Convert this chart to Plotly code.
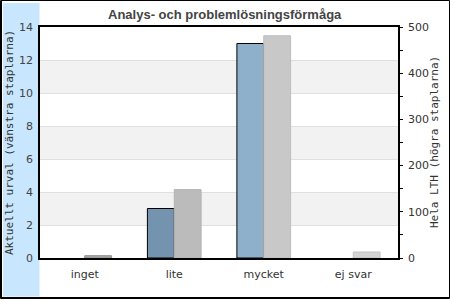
import plotly.graph_objects as go

# ---- data ----
categories = ["inget", "lite", "mycket", "ej svar"]
urval_values = [0, 3, 13, 0]          # Aktuellt urval (left axis)
lth_values = [5, 148, 481, 13]        # Hela LTH (right axis)
left_ticks = [0, 2, 4, 6, 8, 10, 12, 14]
right_ticks = [0, 100, 200, 300, 400, 500]

title_text = "Analys- och problemlösningsförmåga"
left_title = "Aktuellt urval (vänstra staplarna)"
right_title = "Hela LTH (högra staplarna)"

# ---- styles ----
blue_colors = ["#7f9fba", "#7393ae", "#8fb0cb", "#8fb0cb"]
grey_colors = ["#a8a8a8", "#bbbbbb", "#c8c8c8", "#d4d4d4"]
grey_lines = ["#909090", "#b4b4b4", "#bdbdbd", "#c4c4c4"]

W, H = 450, 300
L, R, T, B = 40, 52, 27, 42
pw, ph = W - L - R, H - T - B


def px_x(x):
    return (x - L) / pw


def px_y(y):
    return (H - B - y) / ph


fig = go.Figure()
fig.add_trace(go.Bar(
    x=categories, y=urval_values, yaxis="y", offsetgroup="a",
    marker=dict(color=blue_colors,
                line=dict(color="#000000", width=[1 if v else 0 for v in urval_values])),
    hoverinfo="skip",
))
fig.add_trace(go.Bar(
    x=categories, y=lth_values, yaxis="y2", offsetgroup="b",
    marker=dict(color=grey_colors, line=dict(color=grey_lines, width=1)),
    hoverinfo="skip",
))

shapes = []
# alternating bands
for lo in left_ticks[1::2]:
    if lo + 2 <= left_ticks[-1]:
        shapes.append(dict(type="rect", xref="paper", yref="y", x0=0, x1=1,
                           y0=lo, y1=lo + 2, fillcolor="#f2f2f2",
                           line=dict(width=0), layer="below"))
# blue strip
shapes.append(dict(type="rect", xref="paper", yref="paper",
                   x0=px_x(3), x1=px_x(39.5), y0=px_y(296.5), y1=px_y(3),
                   fillcolor="#c8e6fd", line=dict(width=0), layer="below"))
# outer border
shapes.append(dict(type="rect", xref="paper", yref="paper",
                   x0=px_x(0.5), x1=px_x(449.5), y0=px_y(298.5), y1=px_y(0.5),
                   fillcolor="rgba(0,0,0,0)", line=dict(color="#000000", width=1)))
shapes.append(dict(type="line", xref="paper", yref="paper",
                   x0=px_x(1.5), x1=px_x(1.5), y0=px_y(299), y1=px_y(0.5),
                   line=dict(color="#000000", width=1)))
shapes.append(dict(type="line", xref="paper", yref="paper",
                   x0=px_x(0.5), x1=px_x(449.5), y0=px_y(297.5), y1=px_y(297.5),
                   line=dict(color="#000000", width=1)))

annotations = [
    dict(text=left_title, xref="paper", yref="paper", x=px_x(9.5), y=0.5,
         textangle=-90, showarrow=False, xanchor="center", yanchor="middle",
         font=dict(family="DejaVu Sans Mono", size=11, color="#333333")),
    dict(text=right_title, xref="paper", yref="paper", x=px_x(434.5), y=0.5,
         textangle=-90, showarrow=False, xanchor="center", yanchor="middle",
         font=dict(family="DejaVu Sans Mono", size=11, color="#333333")),
    dict(text="<b>" + title_text + "</b>", xref="paper", yref="paper",
         x=px_x(225), y=px_y(14), showarrow=False, xanchor="center", yanchor="middle",
         font=dict(family="Liberation Sans", size=13, color="#444444")),
]

fig.update_layout(
    width=W, height=H,
    margin=dict(l=L, r=R, t=T, b=B, pad=0),
    paper_bgcolor="#ffffff", plot_bgcolor="#ffffff",
    showlegend=False,
    barmode="group", bargap=0.4, bargroupgap=0,
    shapes=shapes, annotations=annotations,
    font=dict(family="DejaVu Sans", size=11, color="#444444"),
    xaxis=dict(showline=True, linecolor="#000000", linewidth=1.5, mirror=True,
               showgrid=False, ticks="", ticklabelstandoff=5,
               tickfont=dict(size=11, color="#333333")),
    yaxis=dict(range=[0, 14], tickvals=left_ticks, showline=True, linecolor="#000000",
               linewidth=1.5, gridcolor="#e0e0e0", gridwidth=1, ticks="",
               zeroline=False, ticklabelstandoff=3,
               tickfont=dict(size=11, color="#444444")),
    yaxis2=dict(range=[0, 500], tickvals=right_ticks, overlaying="y", side="right",
                showline=True, linecolor="#000000", linewidth=1.5, showgrid=False,
                zeroline=False, ticks="outside", ticklen=3, tickcolor="#000000",
                minor=dict(dtick=50, ticks="outside", ticklen=3, tickcolor="#000000"),
                ticklabelstandoff=3,
                tickfont=dict(size=11, color="#333333")),
)

fig.write_html("out.html")
